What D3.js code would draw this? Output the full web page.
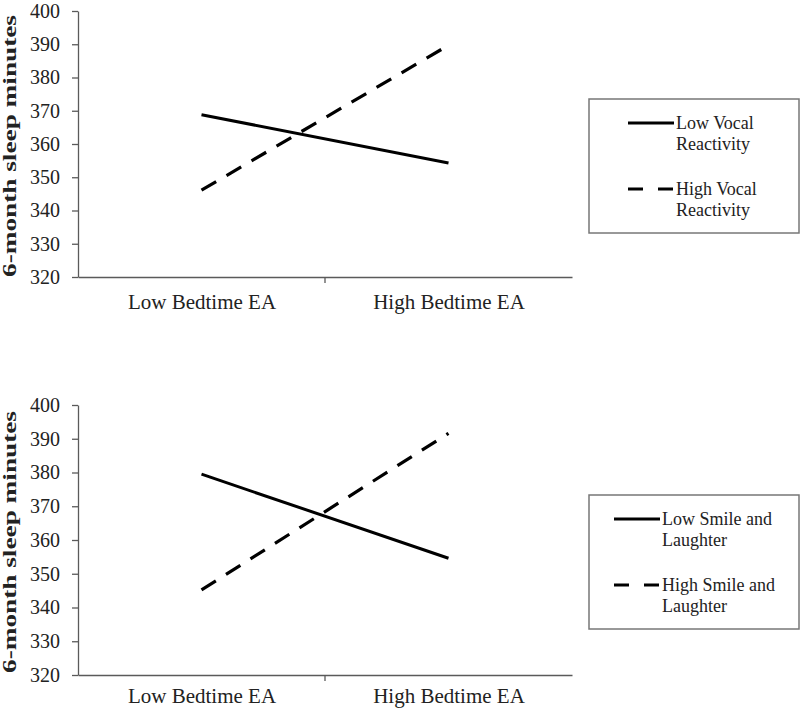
<!DOCTYPE html>
<html>
<head>
<meta charset="utf-8">
<script src="https://cdn.jsdelivr.net/npm/d3@7"></script>
<style>
  body { margin: 0; background: #fff; }
  svg { display: block; font-family: "Liberation Serif", "Times New Roman", serif; }
</style>
</head>
<body>
<svg id="chart" width="800" height="710"></svg>
<script>
// categories and values
const categories = ["Low Bedtime EA", "High Bedtime EA"];
const yTicks = [320, 330, 340, 350, 360, 370, 380, 390, 400];
const vocalLow = [368.8, 354.3];
const vocalHigh = [346.1, 389.7];
const smileLow = [379.5, 354.6];
const smileHigh = [345.2, 391.6];
const vocalLegend = [["Low Vocal", "Reactivity"], ["High Vocal", "Reactivity"]];
const smileLegend = [["Low Smile and", "Laughter"], ["High Smile and", "Laughter"]];
const yTitle = "6-month sleep minutes";

const svg = d3.select('#chart');

// one panel: axes, two lines, legend box
function drawPanel(opt) {
    const x = d3.scalePoint().domain(categories).range([78, 572]).padding(0.5);
    const band = d3.scaleBand().domain(categories).range([78, 572]);
    const y = d3.scaleLinear().domain([320, 400]).range([opt.bottom, opt.top]);

    const g = svg.append('g');

    // y axis
    const yAxis = g.append('g')
        .attr('transform', 'translate(78,0)')
        .call(d3.axisLeft(y).tickValues(yTicks).tickSize(6).tickSizeOuter(0).tickPadding(12));
    yAxis.selectAll('text')
        .style('font-size', '20px')
        .style('font-family', '"Liberation Serif", serif')
        .attr('fill', '#222');

    // x axis
    const xAxis = g.append('g')
        .attr('transform', `translate(0,${opt.bottom})`)
        .call(d3.axisBottom(x).tickSize(0).tickSizeOuter(0).tickPadding(opt.xPad));
    xAxis.selectAll('text')
        .style('font-size', '21px')
        .style('font-family', '"Liberation Serif", serif')
        .attr('fill', '#222');
    // tick between the two categories
    xAxis.append('line')
        .attr('x1', band(categories[1])).attr('x2', band(categories[1]))
        .attr('y1', 0).attr('y2', 6);

    [yAxis, xAxis].forEach(a => {
        a.selectAll('path, line').attr('stroke', '#5a5a5a').attr('stroke-width', 1.3);
    });

    // y title
    g.append('text')
        .attr('transform', `translate(16,${(opt.top + opt.bottom) / 2 + 2}) rotate(-90)`)
        .attr('text-anchor', 'middle')
        .attr('textLength', 262)
        .attr('lengthAdjust', 'spacingAndGlyphs')
        .style('font-size', '18px')
        .style('font-weight', 'bold')
        .attr('fill', '#222')
        .text(yTitle);

    const line = d3.line().x((d, i) => x(categories[i])).y(d => y(d));

    g.append('path')
        .datum(opt.low)
        .attr('d', line)
        .attr('fill', 'none')
        .attr('stroke', '#000')
        .attr('stroke-width', 3);

    g.append('path')
        .datum(opt.high)
        .attr('d', line)
        .attr('fill', 'none')
        .attr('stroke', '#000')
        .attr('stroke-width', 3.2)
        .attr('stroke-dasharray', '17,12');

    // legend
    const lg = g.append('g');
    lg.append('rect')
        .attr('x', 589).attr('y', opt.legY)
        .attr('width', 210).attr('height', 134)
        .attr('fill', 'none')
        .attr('stroke', '#777')
        .attr('stroke-width', 1.5);

    opt.legend.forEach((lines, i) => {
        const ly = opt.legY + 24 + i * 66;
        lg.append('line')
            .attr('x1', opt.legX - 48).attr('x2', opt.legX - 2)
            .attr('y1', ly).attr('y2', ly)
            .attr('stroke', '#000')
            .attr('stroke-width', 3.2)
            .attr('stroke-dasharray', i === 0 ? null : '15,15');
        lines.forEach((t, j) => {
            lg.append('text')
                .attr('x', opt.legX)
                .attr('y', ly + 6 + j * 21)
                .style('font-size', '18px')
                .attr('fill', '#222')
                .text(t);
        });
    });
}

drawPanel({ top: 11, bottom: 277, xPad: 17, low: vocalLow, high: vocalHigh, legend: vocalLegend, legY: 99, legX: 676 });
drawPanel({ top: 405, bottom: 675, xPad: 13, low: smileLow, high: smileHigh, legend: smileLegend, legY: 495, legX: 662 });
</script>
</body>
</html>
